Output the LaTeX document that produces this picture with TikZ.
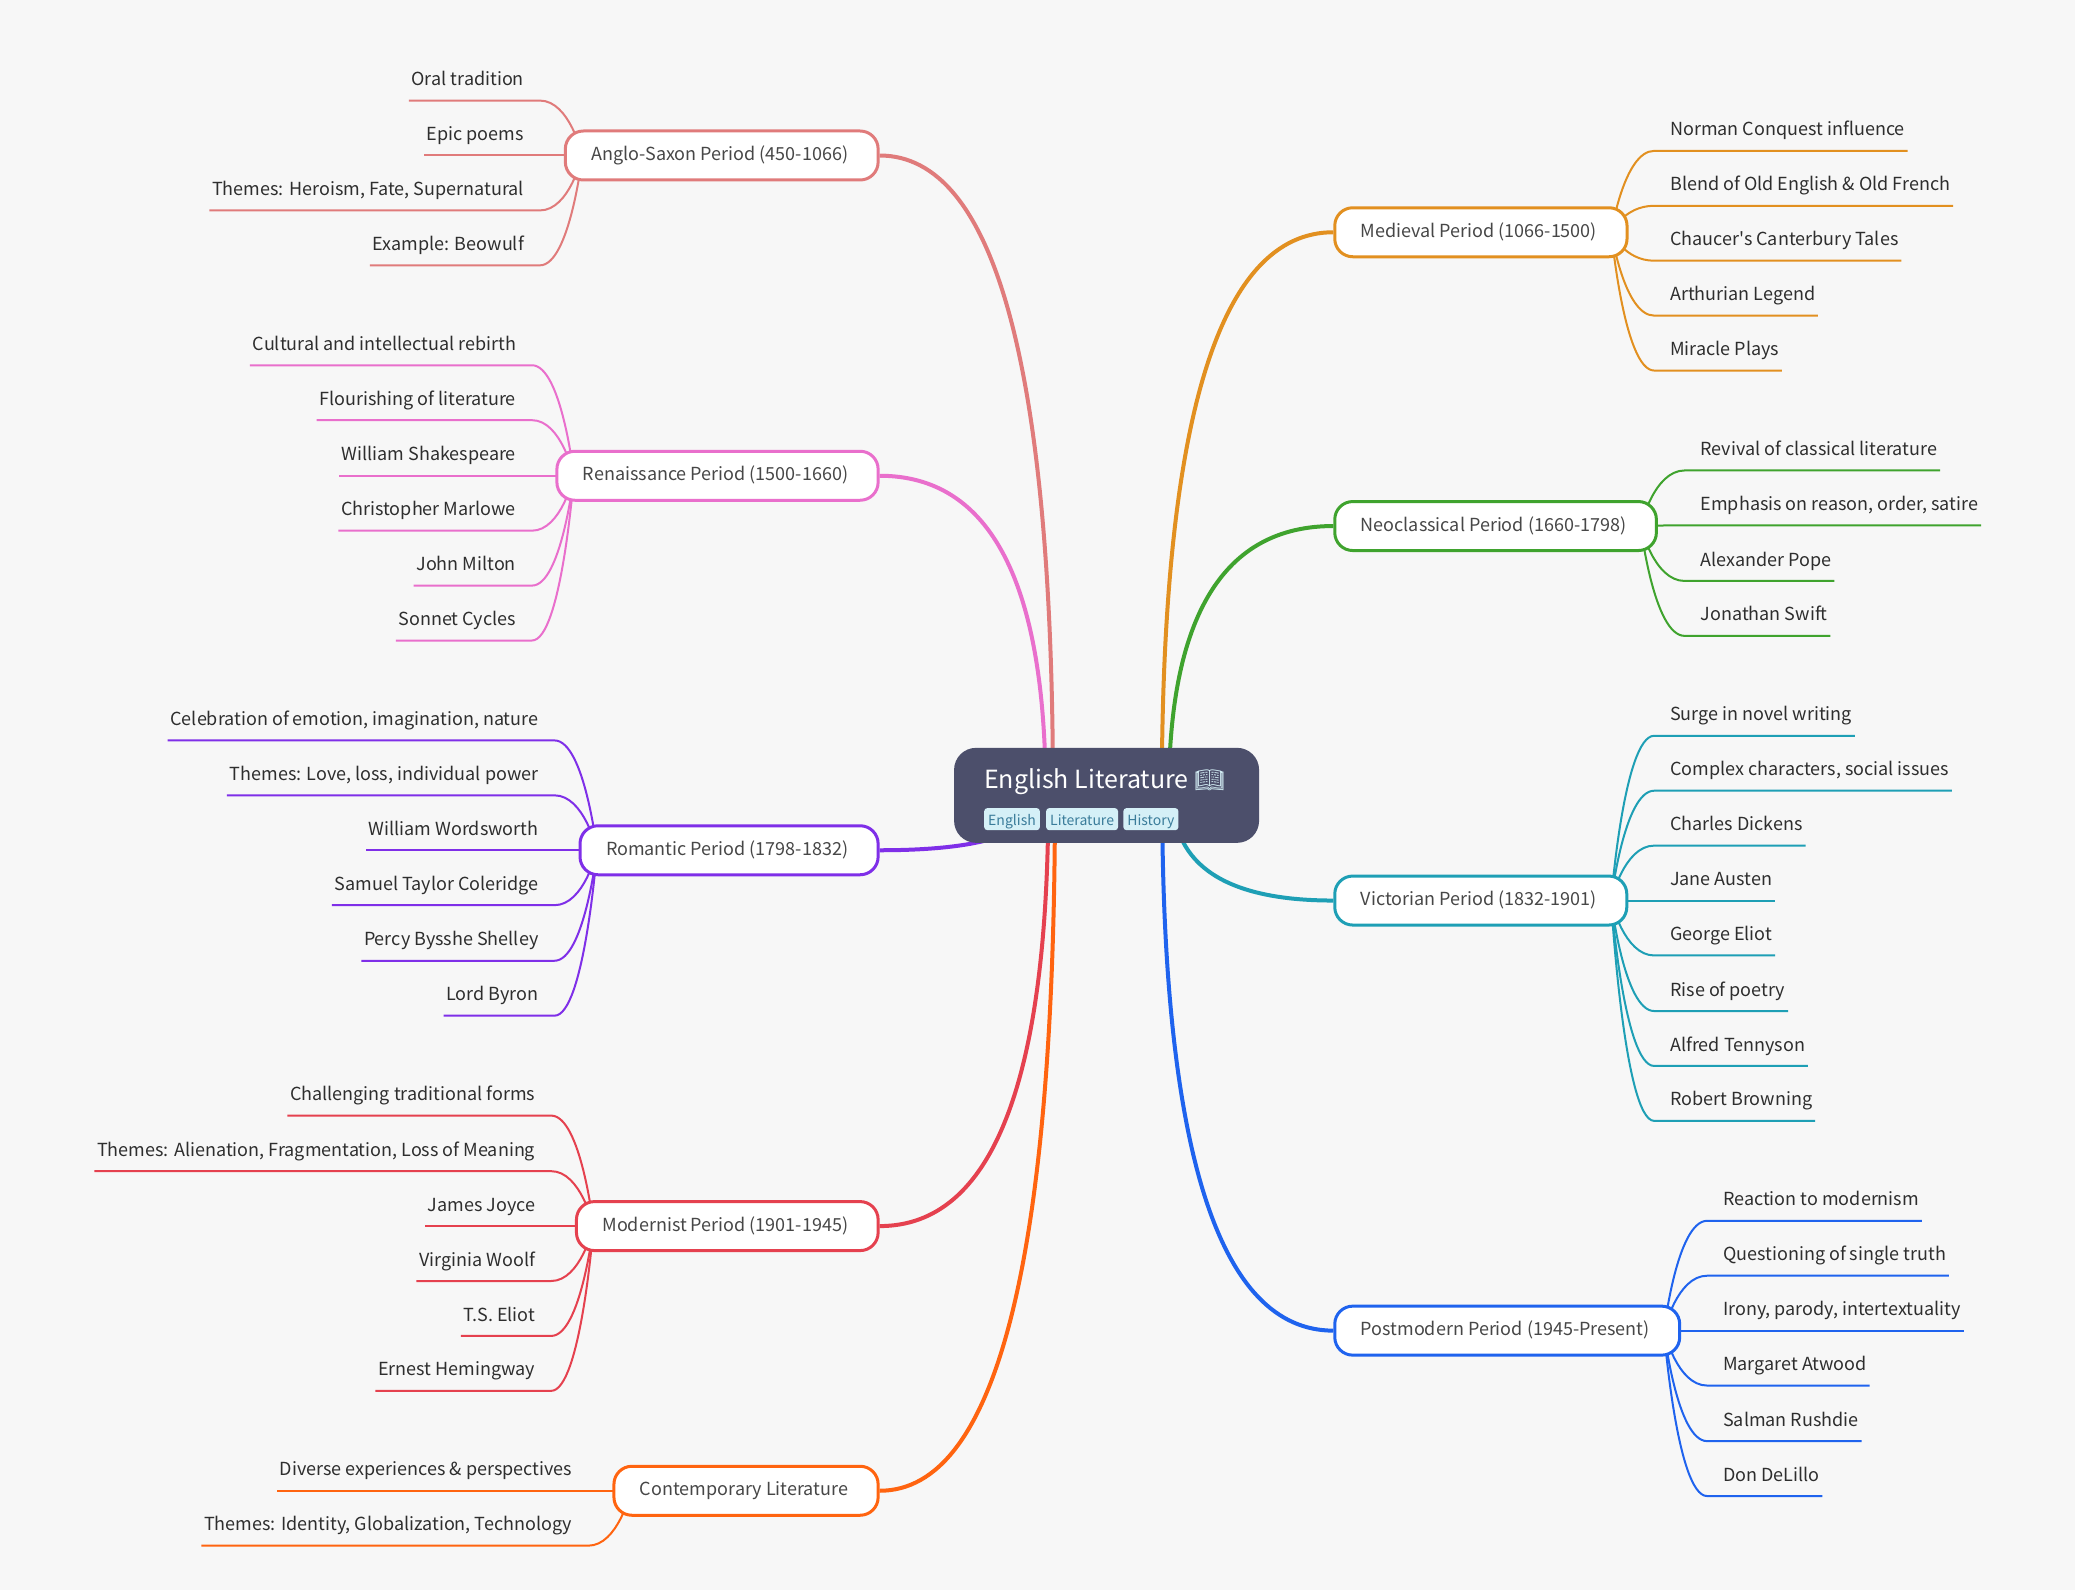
\documentclass[tikz,border=0pt]{standalone}
\usepackage{fontspec}
\setmainfont{Noto Sans CJK SC}[Ligatures=TeXOff]
\newfontfamily\emojifont{Noto Emoji}
\usetikzlibrary{positioning,calc,backgrounds}
\definecolor{pagecol}{HTML}{F7F7F7}
\definecolor{rootcol}{HTML}{4C4F6B}
\definecolor{tagfill}{HTML}{D5F0F7}
\definecolor{tagtext}{HTML}{3A7C9A}
\definecolor{anglocol}{HTML}{E07B7B}
\definecolor{renaicol}{HTML}{E96FCC}
\definecolor{romancol}{HTML}{7F2FE8}
\definecolor{moderncol}{HTML}{E5414F}
\definecolor{contempcol}{HTML}{FF6410}
\definecolor{medievcol}{HTML}{E29020}
\definecolor{neoclcol}{HTML}{3FA32E}
\definecolor{victocol}{HTML}{1E9FB5}
\definecolor{postmcol}{HTML}{1F63EE}
\tikzset{
  rootbox/.style={fill=rootcol,rounded corners=22pt,minimum width=305pt,minimum height=95pt,inner sep=0pt},
  roottitle/.style={text=white,font=\fontsize{25}{30}\selectfont,inner sep=0pt},
  tagbox/.style={fill=tagfill,text=tagtext,rounded corners=3pt,font=\fontsize{14}{18}\selectfont,inner xsep=4pt,inner ysep=0pt,minimum height=22pt,text height=13pt,text depth=0pt},
  period/.style={draw,fill=white,line width=3pt,rounded corners=18pt,minimum height=49pt,inner xsep=26pt,inner ysep=0pt,text=black!72,text height=15pt,text depth=5pt,font=\fontsize{18}{22}\selectfont,execute at end node={\hspace{4pt}}},
  leaf/.style={text=black!82,inner xsep=2.6pt,inner ysep=14.7pt,text depth=0pt,font=\fontsize{18}{22}\selectfont},
  lleaf/.style={leaf,anchor=south east},
  rleaf/.style={leaf,anchor=south west},
  mainline/.style={line width=4pt},
  leafline/.style={line width=2pt}
}
\newcommand{\mainlink}[4]{
  \coordinate (#2s) at ($(root.center)+(#4,0)$);
  \coordinate (#2c) at (#2s |- #2.#3);
  \draw[mainline,#1] (#2s) .. controls ($(#2s)!.667!(#2c)$) and ($(#2.#3)!.667!(#2c)$) .. (#2.#3);
}
\newcommand{\leftleaf}[3]{
  \coordinate (ls) at ($(#2.west)+(14,0)$);
  \coordinate (le) at ($(#3.south east)+(10,0)$);
  \coordinate (lm) at ($(ls)!.3!(le)$);
  \draw[leafline,#1] (ls) .. controls (ls) and (lm |- le) .. (le) -- (#3.south west);
}
\newcommand{\rightleaf}[3]{
  \coordinate (ls) at ($(#2.east)+(-13,0)$);
  \coordinate (le) at ($(#3.south west)+(-10,0)$);
  \coordinate (lm) at ($(ls)!.3!(le)$);
  \draw[leafline,#1] (ls) .. controls (ls) and (lm |- le) .. (le) -- (#3.south east);
}
\begin{document}
\begin{tikzpicture}[x=1.32334pt,y=-1.32334pt]
   \useasboundingbox (0,0) rectangle (1568,1201.5);
   \node[rootbox] (root) at (836.2,601) {};
   \node[roottitle,anchor=base west] (title) at (743.6,595.5) {English Literature {\emojifont\fontsize{24}{30}\selectfont\color{tagfill} 📖}};
   \node[tagbox,anchor=west] (tag1) at (743.6,619) {English};
   \node[tagbox,right=6pt of tag1] (tag2) {Literature};
   \node[tagbox,right=5pt of tag2] (tag3) {History};

   \node[period,draw=anglocol,anchor=east] (anglo) at (664.7,117.5) {Anglo-Saxon Period (450-1066)};
   \node[lleaf] (anglo1) at (398,76) {Oral tradition};
   \node[lleaf] (anglo2) at (398,117.5) {Epic poems};
   \node[lleaf] (anglo3) at (398,159) {Themes: Heroism, Fate, Supernatural};
   \node[lleaf] (anglo4) at (398,200.5) {Example: Beowulf};

   \node[period,draw=renaicol,anchor=east] (renai) at (664.7,359.5) {Renaissance Period (1500-1660)};
   \node[lleaf] (renai1) at (392,276) {Cultural and intellectual rebirth};
   \node[lleaf] (renai2) at (392,317.5) {Flourishing of literature};
   \node[lleaf] (renai3) at (392,359.5) {William Shakespeare};
   \node[lleaf] (renai4) at (392,401) {Christopher Marlowe};
   \node[lleaf] (renai5) at (392,442.5) {John Milton};
   \node[lleaf] (renai6) at (392,484) {Sonnet Cycles};

   \node[period,draw=romancol,anchor=east] (roman) at (664.7,642.5) {Romantic Period (1798-1832)};
   \node[lleaf] (roman1) at (409,559.5) {Celebration of emotion, imagination, nature};
   \node[lleaf] (roman2) at (409,601) {Themes: Love, loss, individual power};
   \node[lleaf] (roman3) at (409,642.5) {William Wordsworth};
   \node[lleaf] (roman4) at (409,684) {Samuel Taylor Coleridge};
   \node[lleaf] (roman5) at (409,726) {Percy Bysshe Shelley};
   \node[lleaf] (roman6) at (409,767.5) {Lord Byron};

   \node[period,draw=moderncol,anchor=east] (modern) at (664.7,926.5) {Modernist Period (1901-1945)};
   \node[lleaf] (modern1) at (406.5,843) {Challenging traditional forms};
   \node[lleaf] (modern2) at (406.5,885) {Themes: Alienation, Fragmentation, Loss of Meaning};
   \node[lleaf] (modern3) at (406.5,926.5) {James Joyce};
   \node[lleaf] (modern4) at (406.5,968) {Virginia Woolf};
   \node[lleaf] (modern5) at (406.5,1009.5) {T.S. Eliot};
   \node[lleaf] (modern6) at (406.5,1051) {Ernest Hemingway};

   \node[period,draw=contempcol,anchor=east] (contemp) at (664.7,1126.5) {Contemporary Literature};
   \node[lleaf] (contemp1) at (434.5,1126.5) {Diverse experiences \& perspectives};
   \node[lleaf] (contemp2) at (434.5,1168) {Themes: Identity, Globalization, Technology};

   \node[period,draw=medievcol,anchor=west] (mediev) at (1007.5,175.5) {Medieval Period (1066-1500)};
   \node[rleaf] (mediev1) at (1260,114) {Norman Conquest influence};
   \node[rleaf] (mediev2) at (1260,155.5) {Blend of Old English \& Old French};
   \node[rleaf] (mediev3) at (1260,197) {Chaucer's Canterbury Tales};
   \node[rleaf] (mediev4) at (1260,238.5) {Arthurian Legend};
   \node[rleaf] (mediev5) at (1260,280) {Miracle Plays};

   \node[period,draw=neoclcol,anchor=west] (neocl) at (1007.5,397.5) {Neoclassical Period (1660-1798)};
   \node[rleaf] (neocl1) at (1283,355.5) {Revival of classical literature};
   \node[rleaf] (neocl2) at (1283,397) {Emphasis on reason, order, satire};
   \node[rleaf] (neocl3) at (1283,439) {Alexander Pope};
   \node[rleaf] (neocl4) at (1283,480.5) {Jonathan Swift};

   \node[period,draw=victocol,anchor=west] (victo) at (1007.5,680.5) {Victorian Period (1832-1901)};
   \node[rleaf] (victo1) at (1260,556) {Surge in novel writing};
   \node[rleaf] (victo2) at (1260,597.5) {Complex characters, social issues};
   \node[rleaf] (victo3) at (1260,639) {Charles Dickens};
   \node[rleaf] (victo4) at (1260,680.5) {Jane Austen};
   \node[rleaf] (victo5) at (1260,722) {George Eliot};
   \node[rleaf] (victo6) at (1260,764) {Rise of poetry};
   \node[rleaf] (victo7) at (1260,805.5) {Alfred Tennyson};
   \node[rleaf] (victo8) at (1260,847) {Robert Browning};

   \node[period,draw=postmcol,anchor=west] (postm) at (1007.5,1005.5) {Postmodern Period (1945-Present)};
   \node[rleaf] (postm1) at (1300,922.5) {Reaction to modernism};
   \node[rleaf] (postm2) at (1300,964) {Questioning of single truth};
   \node[rleaf] (postm3) at (1300,1005.5) {Irony, parody, intertextuality};
   \node[rleaf] (postm4) at (1300,1047) {Margaret Atwood};
   \node[rleaf] (postm5) at (1300,1089) {Salman Rushdie};
   \node[rleaf] (postm6) at (1300,1130.5) {Don DeLillo};

   \begin{scope}[on background layer]
   \fill[pagecol] (0,0) rectangle (1568,1201.5);
   \mainlink{renaicol}{renai}{east}{-46}
   \mainlink{anglocol}{anglo}{east}{-40.5}
   \mainlink{romancol}{roman}{east}{-51}
   \mainlink{moderncol}{modern}{east}{-44}
   \mainlink{contempcol}{contemp}{east}{-39}
   \mainlink{medievcol}{mediev}{west}{41.7}
   \mainlink{neoclcol}{neocl}{west}{47}
   \mainlink{victocol}{victo}{west}{50}
   \mainlink{postmcol}{postm}{west}{42}
   \leftleaf{anglocol}{anglo}{anglo1}
   \leftleaf{anglocol}{anglo}{anglo2}
   \leftleaf{anglocol}{anglo}{anglo3}
   \leftleaf{anglocol}{anglo}{anglo4}
   \leftleaf{renaicol}{renai}{renai1}
   \leftleaf{renaicol}{renai}{renai2}
   \leftleaf{renaicol}{renai}{renai3}
   \leftleaf{renaicol}{renai}{renai4}
   \leftleaf{renaicol}{renai}{renai5}
   \leftleaf{renaicol}{renai}{renai6}
   \leftleaf{romancol}{roman}{roman1}
   \leftleaf{romancol}{roman}{roman2}
   \leftleaf{romancol}{roman}{roman3}
   \leftleaf{romancol}{roman}{roman4}
   \leftleaf{romancol}{roman}{roman5}
   \leftleaf{romancol}{roman}{roman6}
   \leftleaf{moderncol}{modern}{modern1}
   \leftleaf{moderncol}{modern}{modern2}
   \leftleaf{moderncol}{modern}{modern3}
   \leftleaf{moderncol}{modern}{modern4}
   \leftleaf{moderncol}{modern}{modern5}
   \leftleaf{moderncol}{modern}{modern6}
   \leftleaf{contempcol}{contemp}{contemp1}
   \leftleaf{contempcol}{contemp}{contemp2}
   \rightleaf{medievcol}{mediev}{mediev1}
   \rightleaf{medievcol}{mediev}{mediev2}
   \rightleaf{medievcol}{mediev}{mediev3}
   \rightleaf{medievcol}{mediev}{mediev4}
   \rightleaf{medievcol}{mediev}{mediev5}
   \rightleaf{neoclcol}{neocl}{neocl1}
   \rightleaf{neoclcol}{neocl}{neocl2}
   \rightleaf{neoclcol}{neocl}{neocl3}
   \rightleaf{neoclcol}{neocl}{neocl4}
   \rightleaf{victocol}{victo}{victo1}
   \rightleaf{victocol}{victo}{victo2}
   \rightleaf{victocol}{victo}{victo3}
   \rightleaf{victocol}{victo}{victo4}
   \rightleaf{victocol}{victo}{victo5}
   \rightleaf{victocol}{victo}{victo6}
   \rightleaf{victocol}{victo}{victo7}
   \rightleaf{victocol}{victo}{victo8}
   \rightleaf{postmcol}{postm}{postm1}
   \rightleaf{postmcol}{postm}{postm2}
   \rightleaf{postmcol}{postm}{postm3}
   \rightleaf{postmcol}{postm}{postm4}
   \rightleaf{postmcol}{postm}{postm5}
   \rightleaf{postmcol}{postm}{postm6}
   \end{scope}
\end{tikzpicture}
\end{document}
